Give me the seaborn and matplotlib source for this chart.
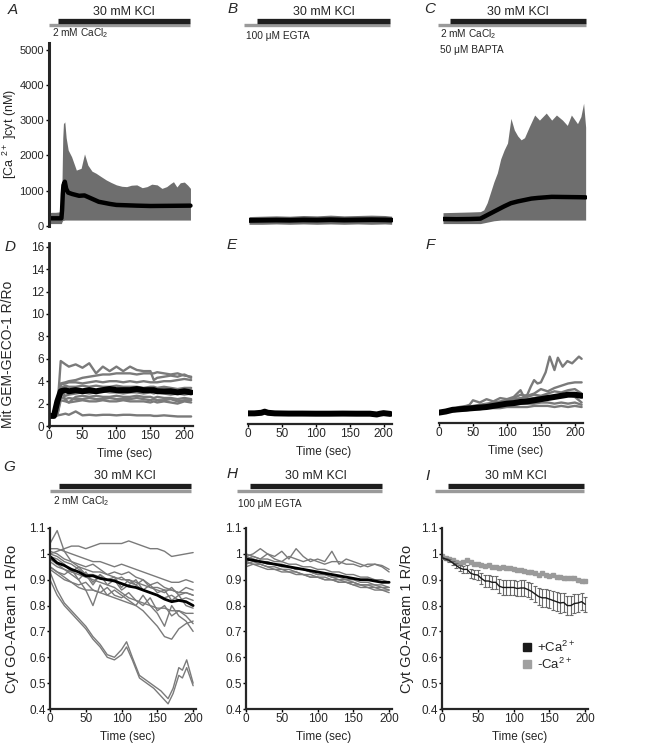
import numpy as np
import matplotlib
matplotlib.use('Agg')
from matplotlib import pyplot as plt
from matplotlib.ticker import FuncFormatter
from matplotlib.lines import Line2D
import seaborn as sns

# ---------------- data ----------------
# A: [Ca2+]cyt, 2 mM CaCl2 -- envelope of single cells + mean
A_t = [0, 5, 10, 15, 19, 20, 21, 22, 24, 26, 29, 34, 41, 48, 53, 58, 64, 70, 77, 85, 92,
       100, 108, 115, 122, 130, 138, 145, 152, 160, 167, 174, 180, 184, 189, 194, 200, 205, 209]
A_hi = [370, 380, 380, 390, 400, 1400, 2500, 2900, 2950, 2500, 2150, 1960, 1580, 1630, 2040, 1720,
        1550, 1490, 1400, 1300, 1230, 1160, 1120, 1110, 1150, 1160, 1080, 1110, 1180, 1160, 1060,
        1110, 1200, 1250, 1100, 1220, 1240, 1150, 1060]
A_lo = [60, 60, 60, 60, 60, 120, 150, 150, 160, 160, 160, 160, 160, 160, 160, 160, 160, 160, 160,
        160, 160, 160, 160, 160, 160, 160, 160, 160, 160, 160, 160, 160, 160, 160, 160, 160, 160,
        160, 160]
A_mean_t = [0, 10, 19, 20, 21, 22, 24, 26, 29, 35, 45, 53, 60, 74, 90, 100, 130, 150, 180, 209]
A_mean = [210, 210, 210, 450, 900, 1150, 1250, 1050, 940, 900, 850, 860, 800, 680, 620, 590,
          570, 560, 565, 570]

# B: 100 uM EGTA
B_t = [0, 20, 40, 60, 80, 100, 120, 140, 160, 180, 200, 210]
B_hi = [260, 270, 280, 270, 290, 280, 300, 280, 290, 300, 290, 270]
B_lo = [40, 40, 50, 40, 50, 40, 50, 40, 50, 40, 50, 40]
B_mean = [150, 155, 160, 155, 165, 160, 170, 160, 165, 170, 165, 160]

# C: 2 mM CaCl2 + 50 uM BAPTA
C_t = [0, 20, 40, 55, 60, 65, 70, 75, 80, 85, 90, 95, 100, 105, 110, 115, 120, 127, 135, 142,
       152, 160, 167, 176, 183, 189, 198, 203, 207, 210]
C_hi = [370, 380, 390, 400, 450, 650, 950, 1250, 1500, 1900, 2150, 2350, 3050, 2720, 2550, 2440,
        2500, 2810, 3145, 3000, 3200, 3000, 3145, 3000, 2850, 3145, 2900, 3100, 3480, 2800]
C_lo = [60, 60, 60, 60, 80, 100, 120, 140, 150, 160, 160, 160, 160, 160, 160, 160, 160, 160, 160,
        160, 160, 160, 160, 160, 160, 160, 160, 160, 160, 160]
C_mean_t = [0, 20, 40, 55, 60, 70, 80, 90, 100, 110, 120, 130, 140, 150, 160, 180, 200, 210]
C_mean = [190, 185, 190, 200, 250, 350, 450, 550, 640, 690, 730, 770, 790, 805, 820, 815, 810, 805]

# D: Mit GEM-GECO-1, 2 mM CaCl2
D_t = [0, 8, 13, 18, 25, 30, 40, 50, 60, 70, 80, 90, 100, 110, 120, 130, 140, 150, 155, 160,
       170, 180, 190, 200, 210]
D_cells = [
    [0.9, 0.9, 1.5, 5.8, 5.5, 5.3, 5.5, 5.2, 5.6, 4.7, 5.3, 4.9, 5.3, 4.9, 5.3, 5.0, 4.9, 4.9, 4.1, 4.3, 4.4, 4.5, 4.4, 4.6, 4.3],
    [0.9, 0.9, 1.3, 3.8, 3.9, 4.0, 4.1, 4.3, 4.4, 4.5, 4.6, 4.6, 4.7, 4.7, 4.7, 4.6, 4.7, 4.7, 4.7, 4.8, 4.7, 4.6, 4.7, 4.5, 4.4],
    [0.9, 0.9, 1.2, 3.7, 3.8, 3.9, 3.9, 3.8, 3.9, 4.0, 3.9, 4.0, 4.0, 3.9, 4.0, 3.9, 4.0, 3.9, 3.9, 3.9, 4.0, 4.0, 4.1, 4.2, 4.1],
    [0.9, 0.9, 1.1, 3.4, 3.6, 3.5, 3.5, 3.6, 3.5, 3.6, 3.5, 3.5, 3.6, 3.5, 3.5, 3.5, 3.4, 3.5, 3.5, 3.4, 3.5, 3.4, 3.3, 3.4, 3.4],
    [0.9, 0.9, 1.0, 3.0, 2.7, 2.8, 2.9, 3.0, 2.9, 3.0, 3.1, 3.0, 3.0, 2.9, 3.0, 3.0, 2.9, 3.0, 2.9, 3.0, 2.9, 2.8, 2.9, 2.8, 2.9],
    [0.9, 0.9, 1.0, 3.3, 2.3, 2.1, 2.6, 2.7, 2.6, 2.7, 2.6, 2.6, 2.7, 2.6, 2.6, 2.7, 2.6, 2.6, 2.5, 2.6, 2.5, 2.5, 2.4, 2.5, 2.4],
    [0.9, 0.9, 1.0, 2.6, 2.4, 2.5, 2.4, 2.4, 2.5, 2.4, 2.4, 2.5, 2.4, 2.4, 2.4, 2.5, 2.4, 2.3, 2.4, 2.3, 2.3, 2.4, 2.2, 2.3, 2.3],
    [0.9, 0.9, 0.95, 2.3, 2.2, 2.1, 2.2, 2.3, 2.2, 2.2, 2.3, 2.2, 2.2, 2.3, 2.2, 2.2, 2.2, 2.1, 2.2, 2.1, 2.2, 2.1, 2.0, 2.2, 2.1],
    [0.9, 0.9, 0.95, 1.0, 1.1, 1.0, 1.3, 0.95, 1.0, 0.95, 1.0, 1.0, 0.95, 1.0, 1.0, 0.95, 0.95, 0.95, 0.9, 0.9, 0.95, 0.9, 0.85, 0.85, 0.85],
]
D_mean = [0.9, 0.9, 2.2, 3.1, 3.2, 3.1, 3.2, 3.1, 3.2, 3.1, 3.2, 3.3, 3.2, 3.2, 3.2, 3.3, 3.2,
          3.2, 3.2, 3.1, 3.1, 3.1, 3.0, 3.1, 3.0]

# E: Mit GEM-GECO-1, 100 uM EGTA
E_t = [0, 10, 20, 25, 30, 40, 60, 80, 100, 120, 140, 160, 180, 190, 195, 200, 210]
E_mean = [0.95, 0.95, 1.0, 1.1, 1.0, 0.95, 0.93, 0.93, 0.92, 0.92, 0.93, 0.92, 0.92, 0.85,
          0.92, 0.97, 0.9]

# F: Mit GEM-GECO-1, CaCl2 + BAPTA
F_t = [0, 10, 20, 30, 40, 50, 60, 70, 80, 90, 100, 110, 120, 130, 140, 150, 160, 170, 180, 190, 200, 210]
F1_t = [0, 10, 20, 30, 40, 45, 50, 60, 70, 80, 90, 100, 110, 120, 125, 130, 135, 140, 145, 150,
        157, 163, 170, 175, 182, 189, 196, 206, 210]
F1 = [0.9, 1.0, 1.2, 1.4, 1.5, 1.6, 2.0, 1.8, 2.1, 1.9, 2.2, 2.1, 2.3, 2.9, 2.3, 2.5, 3.2, 3.8,
      3.5, 3.6, 4.5, 5.9, 4.7, 5.8, 5.0, 5.5, 5.3, 5.9, 5.7]
F_cells = [
    [0.9, 1.0, 1.1, 1.2, 1.3, 1.5, 1.6, 1.7, 1.8, 1.9, 2.0, 2.2, 2.5, 2.4, 2.6, 3.0, 2.8, 3.1, 3.3, 3.5, 3.6, 3.6],
    [0.9, 1.0, 1.1, 1.2, 1.3, 1.4, 1.5, 1.6, 1.7, 1.8, 2.0, 2.1, 2.2, 2.3, 2.5, 2.4, 2.6, 2.8, 2.7, 2.9, 3.0, 2.6],
    [0.9, 1.0, 1.1, 1.2, 1.2, 1.3, 1.4, 1.4, 1.5, 1.5, 1.6, 1.6, 1.7, 1.7, 1.7, 1.8, 1.8, 1.7, 1.8, 1.7, 1.8, 1.6],
    [0.9, 1.0, 1.0, 1.1, 1.1, 1.2, 1.2, 1.3, 1.3, 1.3, 1.4, 1.4, 1.4, 1.4, 1.5, 1.5, 1.5, 1.4, 1.5, 1.4, 1.5, 1.4],
    [0.9, 1.0, 1.1, 1.2, 1.3, 1.4, 1.5, 1.6, 1.7, 1.8, 1.9, 1.9, 2.0, 2.1, 2.2, 2.3, 2.4, 2.3, 2.4, 2.5, 2.3, 1.8],
]
F_mean = [0.9, 1.0, 1.15, 1.2, 1.25, 1.3, 1.35, 1.4, 1.5, 1.6, 1.7, 1.75, 1.85, 1.9, 2.0, 2.1,
          2.2, 2.3, 2.4, 2.5, 2.5, 2.4]

# G: Cyt GO-ATeam 1, 2 mM CaCl2
G_t = [0, 10, 20, 30, 40, 50, 60, 70, 80, 90, 100, 110, 120, 130, 140, 150, 160, 170, 180, 190, 200]
G_cells = [
    [1.00, 1.01, 1.02, 1.03, 1.03, 1.02, 1.03, 1.04, 1.04, 1.04, 1.04, 1.05, 1.04, 1.03, 1.02, 1.02, 1.01, 0.99, 0.995, 1.0, 1.005],
    [1.04, 1.09, 1.01, 0.97, 0.95, 0.94, 0.93, 0.93, 0.92, 0.91, 0.90, 0.90, 0.89, 0.88, 0.87, 0.87, 0.86, 0.86, 0.85, 0.85, 0.84],
    [1.02, 1.02, 1.01, 1.00, 0.99, 0.98, 0.97, 0.97, 0.96, 0.95, 0.96, 0.95, 0.94, 0.93, 0.92, 0.91, 0.90, 0.89, 0.89, 0.90, 0.89],
    [1.01, 1.00, 0.98, 0.97, 0.96, 0.95, 0.96, 0.94, 0.92, 0.93, 0.92, 0.93, 0.91, 0.90, 0.88, 0.89, 0.87, 0.86, 0.85, 0.87, 0.86],
    [0.99, 0.98, 0.96, 0.93, 0.95, 0.92, 0.88, 0.92, 0.90, 0.91, 0.87, 0.90, 0.88, 0.86, 0.85, 0.84, 0.83, 0.84, 0.82, 0.83, 0.82],
    [0.98, 0.96, 0.94, 0.92, 0.90, 0.86, 0.80, 0.88, 0.84, 0.86, 0.84, 0.82, 0.80, 0.84, 0.80, 0.77, 0.72, 0.80, 0.76, 0.74, 0.70],
    [0.95, 0.93, 0.91, 0.89, 0.87, 0.86, 0.86, 0.85, 0.84, 0.83, 0.82, 0.81, 0.80, 0.78, 0.75, 0.72, 0.68, 0.67, 0.71, 0.73, 0.74],
    [0.97, 0.95, 0.94, 0.93, 0.92, 0.91, 0.90, 0.89, 0.88, 0.87, 0.85, 0.83, 0.82, 0.81, 0.80, 0.79, 0.79, 0.78, 0.78, 0.77, 0.77],
    [0.95, 0.93, 0.92, 0.94, 0.90, 0.93, 0.89, 0.92, 0.88, 0.90, 0.86, 0.88, 0.90, 0.86, 0.88, 0.85, 0.86, 0.82, 0.84, 0.80, 0.79],
    [1.00, 0.99, 0.97, 0.96, 0.94, 0.92, 0.92, 0.91, 0.90, 0.90, 0.91, 0.89, 0.88, 0.90, 0.87, 0.86, 0.85, 0.87, 0.84, 0.85, 0.84],
    [0.94, 0.92, 0.90, 0.89, 0.88, 0.89, 0.86, 0.85, 0.87, 0.84, 0.83, 0.85, 0.82, 0.80, 0.83, 0.78, 0.80, 0.76, 0.78, 0.76, 0.73],
]
G_pair_t = [0, 10, 20, 30, 40, 50, 60, 70, 80, 90, 100, 107, 115, 125, 135, 145, 155, 165, 172,
            180, 185, 191, 200]
G_pair_hi = [0.93, 0.86, 0.81, 0.78, 0.75, 0.72, 0.68, 0.65, 0.61, 0.60, 0.63, 0.66, 0.60, 0.53,
             0.51, 0.49, 0.47, 0.44, 0.48, 0.56, 0.55, 0.59, 0.50]
G_pair_lo = [0.90, 0.84, 0.80, 0.77, 0.74, 0.71, 0.67, 0.64, 0.60, 0.59, 0.61, 0.64, 0.59, 0.52,
             0.50, 0.48, 0.45, 0.42, 0.46, 0.53, 0.52, 0.56, 0.49]
G_mean = [0.99, 0.965, 0.955, 0.94, 0.93, 0.915, 0.915, 0.905, 0.90, 0.895, 0.885, 0.875, 0.87,
          0.86, 0.85, 0.84, 0.825, 0.815, 0.82, 0.815, 0.80]

# H: Cyt GO-ATeam 1, 100 uM EGTA
H_t = G_t
H_cells = [
    [0.99, 1.0, 1.02, 1.0, 0.99, 1.01, 0.98, 1.02, 0.99, 0.97, 0.98, 0.97, 1.01, 0.96, 0.98, 0.97, 0.96, 0.95, 0.96, 0.955, 0.94],
    [0.98, 0.99, 0.98, 1.0, 0.98, 0.97, 0.99, 0.98, 0.97, 0.98, 0.97, 0.96, 0.97, 0.97, 0.96, 0.96, 0.95, 0.96, 0.96, 0.95, 0.93],
    [0.97, 0.98, 0.97, 0.96, 0.96, 0.95, 0.95, 0.94, 0.94, 0.93, 0.92, 0.92, 0.91, 0.91, 0.90, 0.90, 0.89, 0.89, 0.88, 0.88, 0.87],
    [0.96, 0.97, 0.96, 0.95, 0.94, 0.94, 0.93, 0.93, 0.92, 0.91, 0.91, 0.90, 0.90, 0.89, 0.89, 0.88, 0.87, 0.87, 0.87, 0.86, 0.86],
    [0.99, 0.98, 0.97, 0.97, 0.96, 0.96, 0.95, 0.94, 0.94, 0.93, 0.92, 0.92, 0.91, 0.90, 0.90, 0.89, 0.88, 0.88, 0.87, 0.87, 0.86],
    [0.95, 0.96, 0.95, 0.94, 0.94, 0.93, 0.93, 0.92, 0.92, 0.91, 0.91, 0.90, 0.90, 0.89, 0.89, 0.88, 0.88, 0.87, 0.86, 0.86, 0.85],
    [1.0, 0.99, 0.98, 0.98, 0.97, 0.97, 0.96, 0.96, 0.95, 0.95, 0.94, 0.94, 0.93, 0.93, 0.92, 0.92, 0.91, 0.91, 0.90, 0.90, 0.89],
    [0.97, 0.96, 0.96, 0.95, 0.95, 0.94, 0.94, 0.93, 0.92, 0.92, 0.91, 0.91, 0.90, 0.90, 0.89, 0.89, 0.88, 0.88, 0.88, 0.87, 0.87],
]
H_mean = [0.98, 0.975, 0.97, 0.965, 0.96, 0.955, 0.95, 0.945, 0.94, 0.935, 0.93, 0.925, 0.92,
          0.915, 0.91, 0.905, 0.90, 0.90, 0.895, 0.89, 0.89]

# I: mean +/- SEM, +Ca2+ vs -Ca2+
I_t = list(range(0, 201, 5))
I_plus = [0.985, 0.98, 0.975, 0.965, 0.955, 0.945, 0.94, 0.94, 0.925, 0.92, 0.918, 0.905, 0.895,
          0.895, 0.89, 0.89, 0.875, 0.87, 0.87, 0.87, 0.87, 0.866, 0.868, 0.868, 0.862, 0.855,
          0.845, 0.835, 0.83, 0.83, 0.825, 0.82, 0.815, 0.81, 0.812, 0.80, 0.80, 0.808, 0.81,
          0.815, 0.805]
I_plus_sem = [0.004, 0.005, 0.007, 0.009, 0.011, 0.012, 0.013, 0.015, 0.017, 0.018, 0.02, 0.021,
              0.022, 0.023, 0.025, 0.026, 0.027, 0.028, 0.028, 0.028, 0.029, 0.029, 0.03, 0.03,
              0.03, 0.031, 0.032, 0.033, 0.034, 0.035, 0.035, 0.036, 0.037, 0.038, 0.038, 0.037,
              0.036, 0.035, 0.034, 0.033, 0.03]
I_minus = [0.99, 0.985, 0.98, 0.975, 0.97, 0.965, 0.968, 0.975, 0.97, 0.96, 0.962, 0.955, 0.952,
           0.955, 0.948, 0.95, 0.946, 0.948, 0.944, 0.945, 0.94, 0.938, 0.936, 0.933, 0.93, 0.928,
           0.925, 0.92, 0.925, 0.918, 0.915, 0.918, 0.912, 0.91, 0.905, 0.905, 0.908, 0.905, 0.9,
           0.895, 0.895]
I_minus_sem = [0.004] * 41

# stimulus bars (sec): bath solution and 30 mM KCl
ROW1_BATH = [(0, 208), (-7, 207), (-7, 210)]
ROW1_KCL = [(14, 208), (12, 207), (11, 210)]
ROW3_BATH = [(0, 197), (-13, 190), (-10, 198)]
ROW3_KCL = [(13, 197), (6, 190), (9, 198)]

# ---------------- style ----------------
sns.set_theme(style='ticks')
plt.rcParams['font.family'] = ['Liberation Sans', 'DejaVu Sans']
plt.rcParams['mathtext.fontset'] = 'custom'
plt.rcParams['mathtext.rm'] = 'Liberation Sans'
plt.rcParams['mathtext.default'] = 'regular'

TRACE = '#7a7a7a'
ENVELOPE = '#6e6e6e'
FS = 8.5

W, H = 666, 749
fig = plt.figure(figsize=(6.66, 7.49), dpi=100)


def add_ax(left, top, width, bottom):
    return fig.add_axes([left / W, 1 - bottom / H, width / W, (bottom - top) / H])


def style(ax, left=True, bottom=True, spw=1.6, fs=FS):
    for side in ['top', 'right']:
        ax.spines[side].set_visible(False)
    ax.spines['left'].set_visible(left)
    ax.spines['bottom'].set_visible(bottom)
    ax.spines['left'].set_linewidth(spw)
    ax.spines['bottom'].set_linewidth(1.6)
    ax.tick_params(direction='out', length=2.5, width=1.0, labelsize=fs, pad=0.6, color='black')
    if not left:
        ax.set_yticks([])
    if not bottom:
        ax.set_xticks([])
    ax.patch.set_alpha(0)


def line(ax, t, v, color, lw):
    sns.lineplot(x=t, y=v, ax=ax, color=color, linewidth=lw, estimator=None, sort=False)


def stim(ax, bath, kcl, yb, yk, ytxt):
    tr = ax.get_xaxis_transform()
    ax.plot(bath, [yb, yb], transform=tr, color='#9a9a9a', lw=2.4, clip_on=False,
            solid_capstyle='butt')
    ax.plot(kcl, [yk, yk], transform=tr, color='#1e1e1e', lw=3.8, clip_on=False,
            solid_capstyle='butt')
    ax.text(np.mean(kcl), ytxt, '30 mM KCl', transform=tr, ha='center', va='center', fontsize=9)


def note(ax, t, y, s):
    ax.text(t, y, s, transform=ax.get_xaxis_transform(), ha='left', va='center', fontsize=7.3)


fmt_g = FuncFormatter(lambda v, p: f'{v:g}')

# ---------------- row 1 ----------------
axA = add_ax(48.5, 42.7, 144, 225.7)
axB = add_ax(249, 42.7, 144, 225.7)
axC = add_ax(443, 42.7, 144, 225.7)
for ax, (t, hi, lo) in zip([axA, axB, axC], [(A_t, A_hi, A_lo), (B_t, B_hi, B_lo), (C_t, C_hi, C_lo)]):
    ax.fill_between(t, lo, hi, color=ENVELOPE, lw=0)
line(axA, A_mean_t, A_mean, 'black', 3.2)
line(axB, B_t, B_mean, 'black', 3.5)
line(axC, C_mean_t, C_mean, 'black', 3.2)
for ax in [axA, axB, axC]:
    ax.set_xlim(0, 212)
    ax.set_ylim(0, 5200)
style(axA, left=True, bottom=False, spw=2.2, fs=8)
style(axB, left=False, bottom=False)
style(axC, left=False, bottom=False)
axA.set_yticks(range(0, 5001, 1000))
axA.set_ylabel('[Ca $^{2+}$ ]cyt (nM)', fontsize=9)
axA.yaxis.set_label_coords(-0.208, 0.5)
for ax, bath, kcl in zip([axA, axB, axC], ROW1_BATH, ROW1_KCL):
    stim(ax, bath, kcl, 1.094, 1.12, 1.166)
note(axA, 4.5, 1.05, '2 mM CaCl$_2$')
note(axB, -4.5, 1.037, '100 \u03bcM EGTA')
note(axC, -4.5, 1.045, '2 mM CaCl$_2$')
note(axC, -4.5, 0.962, '50 \u03bcM BAPTA')

# ---------------- row 2 ----------------
axD = add_ax(48.5, 243.4, 144, 426)
axE = add_ax(247.7, 241.4, 144, 424)
axF = add_ax(439, 240.1, 144, 422.7)
for v in D_cells:
    line(axD, D_t, v, TRACE, 1.7)
line(axD, D_t, D_mean, 'black', 4.3)
line(axE, E_t, E_mean, 'black', 4.3)
line(axF, F1_t, F1, TRACE, 1.7)
for v in F_cells:
    line(axF, F_t, v, TRACE, 1.7)
line(axF, F_t, F_mean, 'black', 4.3)
for ax in [axD, axE, axF]:
    ax.set_xlim(0, 212)
    ax.set_ylim(0, 16.3)
    ax.set_xticks(range(0, 201, 50))
    ax.set_xlabel('Time (sec)', fontsize=FS)
    ax.xaxis.set_label_coords(0.53, -0.12)
style(axD, spw=2.0)
style(axE, left=False)
style(axF, left=False)
axD.set_yticks(range(0, 17, 2))
axD.set_ylabel('Mit GEM-GECO-1 R/Ro', fontsize=10)
axD.yaxis.set_label_coords(-0.232, 0.39)

# ---------------- row 3 ----------------
axG = add_ax(50, 528, 146, 709)
axH = add_ax(246, 528, 146, 709)
axI = add_ax(442, 528, 146, 709)
for v in G_cells:
    line(axG, G_t, v, TRACE, 1.0)
line(axG, G_pair_t, G_pair_hi, TRACE, 1.0)
line(axG, G_pair_t, G_pair_lo, TRACE, 1.0)
line(axG, G_t, G_mean, 'black', 2.0)
for v in H_cells:
    line(axH, H_t, v, TRACE, 1.0)
line(axH, H_t, H_mean, 'black', 2.0)

axI.errorbar(I_t, I_minus, yerr=I_minus_sem, color='#9a9a9a', lw=1.0, marker='s', ms=2.2,
             capsize=1.2, elinewidth=0.8, capthick=0.8, zorder=2)
axI.errorbar(I_t, I_plus, yerr=I_plus_sem, color='#1a1a1a', lw=1.0, ecolor='#6a6a6a',
             capsize=1.5, elinewidth=0.8, capthick=0.8, zorder=3)
handles = [Line2D([], [], ls='none', marker='s', ms=6, color='#1a1a1a'),
           Line2D([], [], ls='none', marker='s', ms=6, color='#a0a0a0')]
axI.legend(handles, ['+Ca$^{2+}$', '-Ca$^{2+}$'], loc='upper left',
           bbox_to_anchor=(515 / W, 1 - 633 / H), bbox_transform=fig.transFigure,
           frameon=False, fontsize=9.5, handlelength=0.8, handletextpad=0.4,
           labelspacing=0.15, borderpad=0)

for ax in [axG, axH, axI]:
    ax.set_xlim(0, 204)
    ax.set_ylim(0.4, 1.1)
    ax.set_xticks(range(0, 201, 50))
    ax.set_yticks(np.round(np.arange(0.4, 1.101, 0.1), 1))
    ax.yaxis.set_major_formatter(fmt_g)
    ax.set_xlabel('Time (sec)', fontsize=FS)
    ax.xaxis.set_label_coords(0.53, -0.12)
    style(ax)
axG.set_ylabel('Cyt GO-ATeam 1 R/Ro', fontsize=10.5)
axG.yaxis.set_label_coords(-0.212, 0.5)
axI.set_ylabel('Cyt GO-ATeam 1 R/Ro', fontsize=10.5)
axI.yaxis.set_label_coords(-0.19, 0.5)
for ax, bath, kcl in zip([axG, axH, axI], ROW3_BATH, ROW3_KCL):
    stim(ax, bath, kcl, 1.205, 1.232, 1.285)
note(axG, 4.5, 1.151, '2 mM CaCl$_2$')
note(axH, -10.5, 1.133, '100 \u03bcM EGTA')

# ---------------- panel letters ----------------
for s, x, y in [('A', 13, 10), ('B', 233, 9), ('C', 430, 9), ('D', 10, 247), ('E', 232, 245),
                ('F', 430, 245), ('G', 9, 467), ('H', 232, 474), ('I', 428, 476)]:
    fig.text(x / W, 1 - y / H, s, fontsize=11, fontstyle='italic', ha='center', va='center')

fig.savefig('out.png', dpi=100)
